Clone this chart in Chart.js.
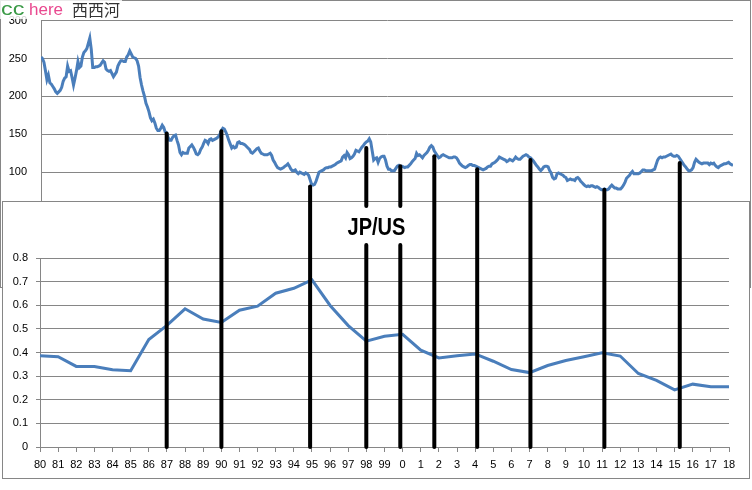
<!DOCTYPE html>
<html>
<head>
<meta charset="utf-8">
<title>JP/US</title>
<script src="https://cdn.jsdelivr.net/npm/chart.js@4.4.1/dist/chart.umd.min.js"></script>
<style>
    html, body { margin: 0; padding: 0; background: #fff; }
    #wrap { position: relative; width: 752px; height: 490px; overflow: hidden; }
    #wrap canvas { position: absolute; left: 0; top: 0; }
</style>
</head>
<body>
<div id="wrap">
    <canvas id="rateChart" width="752" height="490"></canvas>
    <canvas id="ratioChart" width="752" height="490"></canvas>
</div>
<script>
// USD/JPY, monthly, Jan 1980 -> Jan 2019
const usdJpy = [
    252, 250, 245, 234, 222, 228, 218, 216, 213, 210, 206, 204, // 1980
    206, 208, 212, 220, 224, 226, 240, 233, 234, 225, 215, 224, // 1981
    234, 246, 238, 240, 252, 258, 260, 263, 270, 277, 262, 238, // 1982
    238, 239, 239, 240, 241, 244, 247, 245, 236, 234, 233, 234, // 1983
    230, 226, 229, 232, 240, 244, 247, 247, 246, 246, 252, 255, // 1984
    260, 256, 252, 251, 250, 247, 240, 225, 215, 207, 200, 191, // 1985
    186, 180, 172, 168, 170, 165, 158, 155, 155, 158, 162, 159, // 1986
    153, 152, 146, 142, 142, 146, 148, 149, 142, 136, 126, 123, // 1987
    126, 125, 125, 125, 132, 134, 136, 133, 129, 124, 123, 125, // 1988
    130, 133, 138, 142, 141, 138, 143, 144, 142, 143, 144, 145, // 1989
    147, 150, 155, 158, 157, 153, 148, 142, 137, 132, 134, 132, // 1990
    133, 139, 140, 138, 138, 137, 136, 134, 132, 130, 126, 125, // 1991
    127, 129, 131, 132, 128, 125, 124, 123, 123, 123, 124, 125, // 1992
    122, 116, 113, 109, 106, 105, 104, 105, 106, 108, 109, 111, // 1993
    108, 104, 102, 102, 103, 100, 98, 100, 99, 98, 97, 99,      // 1994
    98, 96, 90, 84, 83, 84, 88, 94, 100, 101, 102, 103,         // 1995
    105, 106, 106, 107, 107, 108, 109, 110, 112, 113, 114, 115, // 1996
    120, 122, 119, 126, 123, 118, 119, 121, 124, 129, 128, 127, // 1997
    130, 133, 135, 138, 140, 141, 144, 140, 128, 116, 118, 119, // 1998
    113, 118, 120, 121, 121, 116, 108, 104, 104, 102, 102, 102, // 1999
    105, 108, 109, 107, 108, 107, 106, 107, 107, 109, 111, 114, // 2000
    116, 118, 125, 122, 123, 121, 119, 122, 124, 126, 129, 133, // 2001
    135, 133, 128, 125, 122, 119, 120, 122, 123, 122, 121, 120, // 2002
    119, 119, 119, 120, 120, 119, 116, 112, 110, 108, 107, 106, // 2003
    107, 109, 110, 110, 109, 109, 108, 107, 106, 105, 104, 103, // 2004
    104, 105, 107, 108, 108, 111, 112, 113, 115, 117, 120, 119, // 2005
    118, 117, 116, 114, 115, 117, 116, 115, 117, 120, 118, 117, // 2006
    117, 119, 121, 122, 123, 122, 120, 119, 117, 115, 112, 109, // 2007
    107, 104, 102, 104, 107, 108, 108, 107, 102, 99, 93, 91,    // 2008
    92, 98, 99, 98, 97, 96, 94, 93, 89, 90, 91, 90,             // 2009
    90, 89, 92, 93, 91, 88, 86, 84, 82, 81, 82, 81,             // 2010
    82, 82, 81, 80, 81, 80, 78, 77, 77, 78, 77, 77,             // 2011
    78, 81, 83, 81, 79, 79, 78, 78, 78, 80, 83, 87,             // 2012
    92, 94, 96, 99, 101, 98, 98, 98, 98, 99, 101, 103,          // 2013
    103, 102, 102, 102, 102, 102, 103, 104, 110, 116, 119, 120, // 2014
    119, 120, 120, 121, 122, 123, 124, 122, 121, 121, 122, 121, // 2015
    118, 115, 112, 109, 107, 104, 102, 102, 103, 106, 113, 117, // 2016
    115, 113, 112, 111, 112, 112, 112, 112, 110, 112, 111, 112, // 2017
    109, 107, 106, 108, 109, 110, 111, 111, 112, 113, 111, 110, // 2018
    109                                                         // 2019
];

// lower panel: one value per year
const yearLabels = ['80', '81', '82', '83', '84', '85', '86', '87', '88', '89',
    '90', '91', '92', '93', '94', '95', '96', '97', '98', '99',
    '0', '1', '2', '3', '4', '5', '6', '7', '8', '9',
    '10', '11', '12', '13', '14', '15', '16', '17', '18'];
const ratioValues = [0.386, 0.382, 0.341, 0.341, 0.327, 0.323, 0.455, 0.515, 0.585, 0.542,
    0.527, 0.579, 0.596, 0.651, 0.672, 0.707, 0.599, 0.514, 0.448, 0.469,
    0.477, 0.41, 0.377, 0.386, 0.394, 0.363, 0.328, 0.315, 0.345, 0.366,
    0.382, 0.399, 0.385, 0.311, 0.282, 0.242, 0.266, 0.255, 0.255];

// hand drawn black markers: month index on the upper panel, upper end in JPY
const markerMonths = [85, 122, 182, 220, 243, 266, 295, 331, 381, 432];
const markerTops = [151, 154, 81, 132, 108, 121, 104, 116, 77, 112];
const splitMarkers = [3, 4];          // these two leave room for the label
const labelGap = [0.855, 1.02];       // on the lower value axis

const GRID = '#868686';
const BLUE = '#4a7ebb';
const FONT = { family: '"Liberation Sans", Arial, sans-serif', size: 11 };

const ratePanel = {
    id: 'ratePanel',
    beforeDraw(chart) {
        const ctx = chart.ctx;
        ctx.save();
        ctx.fillStyle = '#fff';
        ctx.fillRect(0, 0, chart.width, chart.height);
        ctx.strokeStyle = GRID;
        ctx.lineWidth = 1;
        ctx.strokeRect(0.5, 0.5, 750, 287);
        ctx.restore();
    },
    afterDraw(chart) {
        // watermark in the corner
        const ctx = chart.ctx;
        ctx.save();
        ctx.fillStyle = 'rgba(255,255,255,0.82)';
        ctx.fillRect(0, 0, 122, 19);
        ctx.textBaseline = 'alphabetic';
        ctx.font = '18px "Liberation Sans", Arial, sans-serif';
        ctx.fillStyle = '#3b9a47';
        ctx.save();
        ctx.translate(1, 15);
        ctx.scale(1.3, 1);
        ctx.fillText('cc', 0, 0);
        ctx.restore();
        ctx.font = '17px "Liberation Sans", Arial, sans-serif';
        ctx.fillStyle = '#e9488f';
        ctx.fillText('here', 29, 15);
        ctx.font = '16px "Noto Sans CJK SC", sans-serif';
        ctx.fillStyle = '#333';
        ctx.fillText('西西河', 72, 16);
        ctx.restore();
    }
};

const rateChart = new Chart(document.getElementById('rateChart'), {
    type: 'line',
    data: {
        datasets: [{
            data: usdJpy.map((v, i) => ({ x: i, y: v })),
            borderColor: BLUE,
            borderWidth: 3,
            pointRadius: 0,
            tension: 0,
            fill: false
        }]
    },
    options: {
        responsive: false,
        animation: false,
        devicePixelRatio: 1,
        layout: { padding: { left: 0, top: 14, right: 19, bottom: 242 } },
        plugins: { legend: { display: false }, tooltip: { enabled: false } },
        scales: {
            x: { type: 'linear', min: 0, max: usdJpy.length - 1, display: false },
            y: {
                min: 0,
                max: 300,
                ticks: { stepSize: 50, color: '#000', font: FONT, padding: 14 },
                grid: { color: GRID, drawTicks: false },
                border: { color: GRID },
                afterFit: s => { s.width = 41; }
            }
        }
    },
    plugins: [ratePanel]
});

const ratioPanel = {
    id: 'ratioPanel',
    beforeDraw(chart) {
        const ctx = chart.ctx;
        ctx.save();
        ctx.fillStyle = '#fff';
        ctx.fillRect(2.5, 201.5, 747, 277);
        ctx.strokeStyle = GRID;
        ctx.lineWidth = 1;
        ctx.strokeRect(2.5, 201.5, 747, 277);
        ctx.restore();
    },
    afterDraw(chart) {
        const ctx = chart.ctx;
        const tx = rateChart.scales.x;
        const ty = rateChart.scales.y;
        const by = chart.scales.y;
        const bottom = by.getPixelForValue(0);
        ctx.save();
        ctx.strokeStyle = '#000';
        ctx.lineWidth = 4;
        ctx.lineCap = 'round';
        markerMonths.forEach((m, i) => {
            const x = tx.getPixelForValue(m);
            const top = ty.getPixelForValue(markerTops[i]);
            ctx.beginPath();
            if (splitMarkers.includes(i)) {
                ctx.moveTo(x, top);
                ctx.lineTo(x, by.getPixelForValue(labelGap[1]));
                ctx.moveTo(x, by.getPixelForValue(labelGap[0]));
                ctx.lineTo(x, bottom);
            } else {
                ctx.moveTo(x, top);
                ctx.lineTo(x, bottom);
            }
            ctx.stroke();
        });

        // label between the split markers
        ctx.font = 'bold 23px "Liberation Sans", Arial, sans-serif';
        const w = ctx.measureText('JP/US').width;
        ctx.translate(376.5, 235);
        ctx.scale(58 / w, 1);
        ctx.textAlign = 'center';
        ctx.textBaseline = 'alphabetic';
        ctx.fillStyle = '#000';
        ctx.fillText('JP/US', 0, 0);
        ctx.restore();
    }
};

const ratioChart = new Chart(document.getElementById('ratioChart'), {
    type: 'line',
    data: {
        labels: yearLabels,
        datasets: [{
            data: ratioValues,
            borderColor: BLUE,
            borderWidth: 3,
            pointRadius: 0,
            tension: 0,
            fill: false
        }]
    },
    options: {
        responsive: false,
        animation: false,
        devicePixelRatio: 1,
        layout: { padding: { left: 0, top: 258, right: 23, bottom: 13 } },
        plugins: { legend: { display: false }, tooltip: { enabled: false } },
        scales: {
            x: {
                ticks: { color: '#000', font: FONT, autoSkip: false, maxRotation: 0, padding: 6 },
                grid: { drawOnChartArea: false, color: GRID, tickLength: 5 },
                border: { color: GRID },
                afterFit: s => { s.height = 30; }
            },
            y: {
                min: 0,
                max: 0.8,
                ticks: { stepSize: 0.1, color: '#000', font: FONT, padding: 8 },
                grid: { color: GRID, tickLength: 4 },
                border: { color: GRID },
                afterFit: s => { s.width = 40; }
            }
        }
    },
    plugins: [ratioPanel]
});
</script>
</body>
</html>
